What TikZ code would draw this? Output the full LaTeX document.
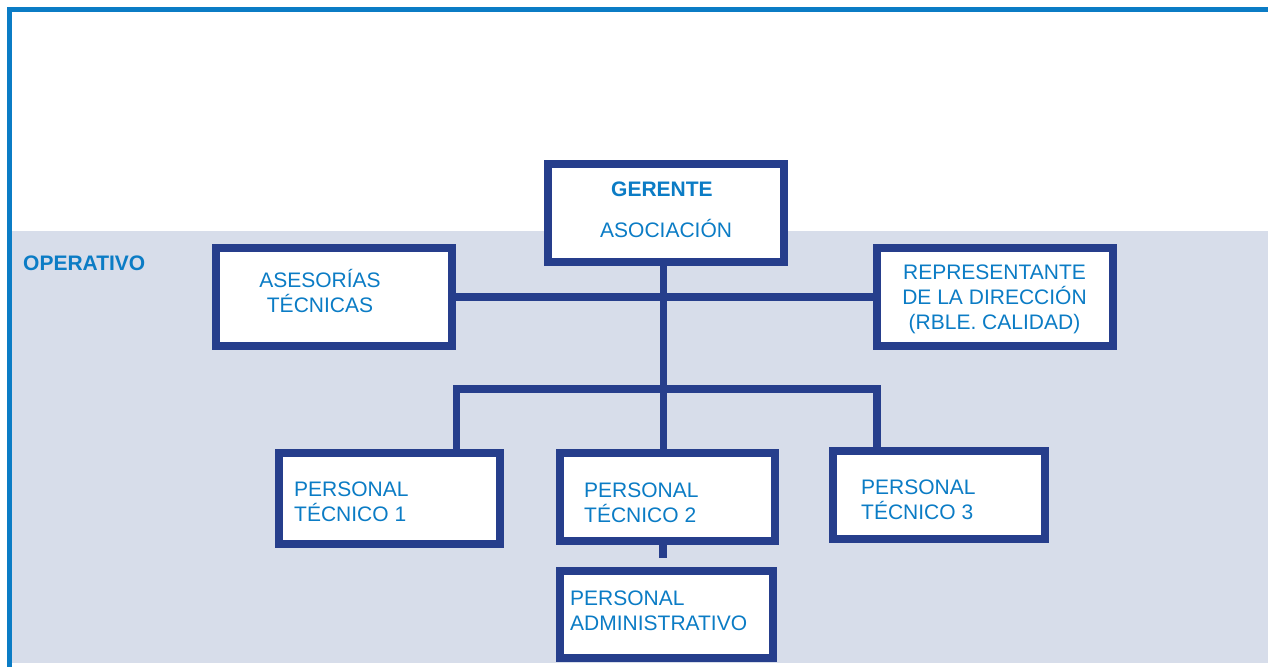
\documentclass[tikz,border=0pt]{standalone}
\usepackage{fontspec}
\setmainfont{Liberation Sans}
\definecolor{txtblue}{HTML}{0B7CC5}
\definecolor{navy}{HTML}{263E8C}
\definecolor{band}{HTML}{D7DDEA}
\begin{document}
\begin{tikzpicture}[x=1pt,y=-1pt,
  box/.style={draw=navy, line width=8pt, fill=white, rectangle, inner sep=0pt},
  conn/.style={draw=navy, line width=7.5pt, line join=miter},
  lbl/.style={text=txtblue, font=\fontsize{21}{25}\selectfont, inner sep=0pt, anchor=base west},
  lblb/.style={lbl, font=\bfseries\fontsize{21}{25}\selectfont},
]
\useasboundingbox (0,0) rectangle (1268,667);
\fill[white] (0,0) rectangle (1268,667);
\fill[band] (12,231) rectangle (1268,663);
\fill[txtblue] (7,7) rectangle (1268,12);
\fill[txtblue] (7,7) rectangle (12,667);

% boxes
\node[box, minimum width=236pt, minimum height=98pt] (ger) at (666,213) {};
\node[box, minimum width=236pt, minimum height=98pt] (ases) at (334,297) {};
\node[box, minimum width=236pt, minimum height=98pt] (rep) at (995,297) {};
\node[box, minimum width=221pt, minimum height=91pt] (pt1) at (389.5,498.5) {};
\node[box, minimum width=215pt, minimum height=88pt] (pt2) at (667.5,497) {};
\node[box, minimum width=212pt, minimum height=88pt] (pt3) at (939,495) {};
\node[box, minimum width=213pt, minimum height=87pt] (pa) at (666.5,614.5) {};

% connectors
\coordinate (bl) at (456.5,389);
\coordinate (br) at (877,389);
\draw[conn] ([xshift=-2.5pt]ger.south) -- ([xshift=-2.5pt]ger.south |- pt2.north);
\draw[conn] (ases.east) -- ([xshift=6pt]rep.west);
\draw[conn] (pt1.north -| bl) -- (bl) -- (br) -- (pt3.north -| br);
\draw[conn, shorten >=9pt] ([xshift=-4.5pt]pt2.south) -- ([xshift=-4.5pt]pt2.south |- pa.north);

% texts
\node[lblb] (toper) at (23,270) {OPERATIVO};
\node[lblb] (tger) at (611,196) {GERENTE};
\node[lbl] (tasoc) at (600,237) {ASOCIACIÓN};
\node[lbl, anchor=base] (tases) at (320,287) {\begin{tabular}[t]{@{}c@{}}ASESORÍAS\\TÉCNICAS\end{tabular}};
\node[lbl, anchor=base] (trep) at (994.5,279) {\begin{tabular}[t]{@{}c@{}}REPRESENTANTE\\DE LA DIRECCIÓN\\(RBLE. CALIDAD)\end{tabular}};
\node[lbl] (tpt1) at (294,496) {\begin{tabular}[t]{@{}l@{}}PERSONAL\\TÉCNICO 1\end{tabular}};
\node[lbl] (tpt2) at (584,497) {\begin{tabular}[t]{@{}l@{}}PERSONAL\\TÉCNICO 2\end{tabular}};
\node[lbl] (tpt3) at (861,494) {\begin{tabular}[t]{@{}l@{}}PERSONAL\\TÉCNICO 3\end{tabular}};
\node[lbl] (tpa) at (570,605) {\begin{tabular}[t]{@{}l@{}}PERSONAL\\ADMINISTRATIVO\end{tabular}};
\end{tikzpicture}
\end{document}
